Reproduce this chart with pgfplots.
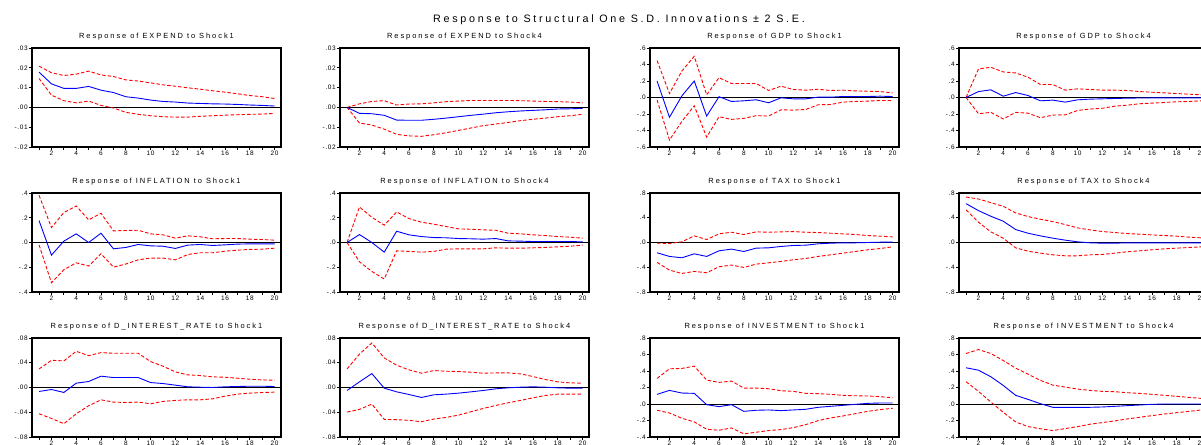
\documentclass[border=0pt]{standalone}
\usepackage{pgfplots}
\pgfplotsset{compat=1.18}
\usepackage{pgfplotstable}
\usepackage{fontspec}
\setmainfont{Liberation Sans}
\newfontfamily\titlefont[LetterSpace=25]{Liberation Sans}
\newfontfamily\ptitlefont[LetterSpace=26]{Liberation Sans}
\newfontfamily\tickfont[LetterSpace=10]{Liberation Sans}

\pgfplotstableread{
x m u l
1 0.0178 0.0208 0.0146
2 0.0119 0.0175 0.0062
3 0.0096 0.0161 0.0034
4 0.0096 0.0168 0.0023
5 0.0106 0.0183 0.0032
6 0.0087 0.0164 0.0010
7 0.0075 0.0156 -0.0003
8 0.0054 0.0139 -0.0025
9 0.0047 0.0133 -0.0035
10 0.0037 0.0124 -0.0042
11 0.0030 0.0114 -0.0047
12 0.0027 0.0107 -0.0049
13 0.0022 0.0099 -0.0049
14 0.0020 0.0092 -0.0045
15 0.0018 0.0084 -0.0042
16 0.0017 0.0077 -0.0039
17 0.0015 0.0069 -0.0037
18 0.0012 0.0060 -0.0035
19 0.0010 0.0054 -0.0034
20 0.0007 0.0045 -0.0030
}\tabA
\pgfplotstableread{
x m u l
1 0 0 0
2 -0.0030 0.0018 -0.0079
3 -0.0032 0.0030 -0.0089
4 -0.0040 0.0034 -0.0110
5 -0.0064 0.0012 -0.0136
6 -0.0065 0.0017 -0.0144
7 -0.0065 0.0018 -0.0146
8 -0.0060 0.0023 -0.0138
9 -0.0054 0.0029 -0.0128
10 -0.0047 0.0032 -0.0116
11 -0.0040 0.0035 -0.0104
12 -0.0034 0.0035 -0.0092
13 -0.0027 0.0035 -0.0084
14 -0.0022 0.0035 -0.0076
15 -0.0018 0.0034 -0.0067
16 -0.0015 0.0032 -0.0060
17 -0.0012 0.0030 -0.0054
18 -0.0008 0.0029 -0.0047
19 -0.0007 0.0027 -0.0042
20 -0.0005 0.0023 -0.0035
}\tabB
\pgfplotstableread{
x m u l
1 0.20 0.447 -0.03
2 -0.24 0.048 -0.515
3 0.02 0.32 -0.29
4 0.20 0.50 -0.10
5 -0.225 0.032 -0.48
6 0.01 0.24 -0.233
7 -0.048 0.17 -0.265
8 -0.04 0.17 -0.253
9 -0.028 0.17 -0.22
10 -0.064 0.085 -0.225
11 -0.004 0.137 -0.149
12 -0.016 0.097 -0.153
13 -0.016 0.089 -0.145
14 0.004 0.10 -0.088
15 0.004 0.085 -0.085
16 0.012 0.089 -0.056
17 0.012 0.08 -0.048
18 0.012 0.076 -0.044
19 0.016 0.072 -0.036
20 0.012 0.056 -0.036
}\tabC
\pgfplotstableread{
x m u l
1 0 0 0
2 0.072 0.346 -0.197
3 0.093 0.366 -0.18
4 0.016 0.31 -0.26
5 0.06 0.298 -0.18
6 0.024 0.246 -0.19
7 -0.04 0.157 -0.245
8 -0.032 0.157 -0.213
9 -0.056 0.089 -0.21
10 -0.028 0.105 -0.157
11 -0.02 0.097 -0.14
12 -0.016 0.089 -0.13
13 -0.012 0.089 -0.105
14 -0.008 0.085 -0.093
15 -0.006 0.072 -0.076
16 -0.005 0.064 -0.068
17 -0.005 0.056 -0.06
18 -0.005 0.048 -0.052
19 -0.005 0.04 -0.048
20 -0.005 0.032 -0.04
}\tabD
\pgfplotstableread{
x m u l
1 0.177 0.381 -0.02
2 -0.102 0.121 -0.325
3 0.011 0.242 -0.22
4 0.07 0.295 -0.164
5 0.0 0.183 -0.19
6 0.075 0.236 -0.091
7 -0.051 0.094 -0.199
8 -0.04 0.097 -0.174
9 -0.016 0.099 -0.14
10 -0.027 0.07 -0.126
11 -0.03 0.062 -0.126
12 -0.048 0.035 -0.14
13 -0.021 0.054 -0.097
14 -0.016 0.046 -0.083
15 -0.024 0.03 -0.083
16 -0.019 0.032 -0.07
17 -0.013 0.032 -0.062
18 -0.011 0.027 -0.056
19 -0.011 0.024 -0.054
20 -0.011 0.019 -0.046
}\tabE
\pgfplotstableread{
x m u l
1 0 0 0
2 0.064 0.287 -0.156
3 0.0 0.204 -0.234
4 -0.078 0.14 -0.295
5 0.091 0.247 -0.067
6 0.062 0.193 -0.072
7 0.048 0.164 -0.078
8 0.04 0.148 -0.072
9 0.038 0.129 -0.054
10 0.032 0.11 -0.051
11 0.03 0.107 -0.051
12 0.027 0.102 -0.051
13 0.032 0.099 -0.043
14 0.013 0.075 -0.046
15 0.011 0.07 -0.046
16 0.008 0.062 -0.043
17 0.008 0.056 -0.04
18 0.008 0.048 -0.035
19 0.008 0.043 -0.03
20 0.005 0.035 -0.021
}\tabF
\pgfplotstableread{
x m u l
1 -0.166 -0.011 -0.322
2 -0.225 -0.016 -0.446
3 -0.247 0.011 -0.5
4 -0.183 0.107 -0.467
5 -0.225 0.048 -0.489
6 -0.134 0.14 -0.392
7 -0.107 0.166 -0.365
8 -0.145 0.129 -0.403
9 -0.091 0.172 -0.349
10 -0.086 0.166 -0.328
11 -0.064 0.172 -0.306
12 -0.048 0.177 -0.279
13 -0.043 0.166 -0.258
14 -0.021 0.161 -0.225
15 -0.011 0.15 -0.199
16 -0.005 0.14 -0.172
17 -0.005 0.129 -0.145
18 0.0 0.113 -0.118
19 0.005 0.102 -0.097
20 0.005 0.091 -0.07
}\tabG
\pgfplotstableread{
x m u l
1 0.628 0.735 0.526
2 0.515 0.703 0.328
3 0.424 0.644 0.172
4 0.344 0.585 0.07
5 0.209 0.478 -0.086
6 0.15 0.419 -0.14
7 0.107 0.376 -0.172
8 0.07 0.338 -0.199
9 0.038 0.29 -0.215
10 0.011 0.236 -0.215
11 -0.005 0.204 -0.199
12 -0.011 0.177 -0.193
13 -0.011 0.161 -0.172
14 -0.005 0.145 -0.15
15 -0.005 0.134 -0.134
16 -0.005 0.123 -0.118
17 -0.005 0.113 -0.102
18 -0.005 0.102 -0.091
19 -0.005 0.086 -0.081
20 -0.005 0.075 -0.07
}\tabH
\pgfplotstableread{
x m u l
1 -0.0064 0.030 -0.0424
2 -0.0032 0.044 -0.050
3 -0.008 0.043 -0.0585
4 0.007 0.0585 -0.0424
5 0.0097 0.0515 -0.0295
6 0.0183 0.0564 -0.0199
7 0.0161 0.0553 -0.0236
8 0.0161 0.0553 -0.0242
9 0.0161 0.0553 -0.0236
10 0.008 0.0419 -0.0263
11 0.0064 0.0344 -0.0225
12 0.0038 0.0252 -0.0209
13 0.0011 0.0204 -0.0199
14 0.0005 0.0193 -0.0199
15 0.0 0.0172 -0.0183
16 0.0011 0.0166 -0.014
17 0.0016 0.015 -0.0107
18 0.0021 0.0134 -0.0091
19 0.0021 0.0123 -0.0081
20 0.0016 0.0118 -0.0075
}\tabI
\pgfplotstableread{
x m u l
1 -0.0048 0.030 -0.0397
2 0.0091 0.054 -0.0354
3 0.0225 0.072 -0.0268
4 -0.0011 0.0478 -0.0515
5 -0.007 0.036 -0.052
6 -0.0113 0.0285 -0.0531
7 -0.0161 0.0231 -0.0553
8 -0.0118 0.0274 -0.051
9 -0.0107 0.0263 -0.0483
10 -0.0091 0.0258 -0.0446
11 -0.007 0.0247 -0.0392
12 -0.0048 0.0231 -0.0338
13 -0.0021 0.0236 -0.029
14 -0.0005 0.0236 -0.0247
15 0.0005 0.022 -0.0209
16 0.0011 0.0177 -0.0166
17 0.0005 0.0129 -0.0129
18 -0.0005 0.0091 -0.0107
19 -0.0011 0.0075 -0.0107
20 -0.0011 0.007 -0.0107
}\tabJ
\pgfplotstableread{
x m u l
1 0.117 0.31 -0.076
2 0.165 0.427 -0.109
3 0.133 0.431 -0.173
4 0.129 0.459 -0.217
5 -0.008 0.29 -0.306
6 -0.032 0.262 -0.318
7 -0.008 0.278 -0.29
8 -0.089 0.193 -0.362
9 -0.076 0.193 -0.342
10 -0.072 0.185 -0.322
11 -0.08 0.161 -0.31
12 -0.072 0.153 -0.286
13 -0.064 0.129 -0.25
14 -0.04 0.125 -0.201
15 -0.028 0.117 -0.169
16 -0.016 0.105 -0.145
17 -0.004 0.10 -0.117
18 0.008 0.097 -0.089
19 0.012 0.089 -0.068
20 0.012 0.076 -0.052
}\tabK
\pgfplotstableread{
x m u l
1 0.439 0.612 0.27
2 0.41 0.66 0.153
3 0.33 0.612 0.024
4 0.225 0.527 -0.101
5 0.105 0.435 -0.217
6 0.056 0.362 -0.274
7 0.004 0.286 -0.30
8 -0.04 0.229 -0.322
9 -0.04 0.205 -0.298
10 -0.04 0.181 -0.274
11 -0.04 0.165 -0.245
12 -0.036 0.153 -0.225
13 -0.028 0.149 -0.205
14 -0.02 0.137 -0.181
15 -0.012 0.129 -0.161
16 -0.004 0.117 -0.141
17 0 0.105 -0.121
18 0 0.093 -0.105
19 0 0.08 -0.089
20 0 0.068 -0.072
}\tabL

\pgfplotsset{
  irf/.style={scale only axis, width=249bp, height=99bp,
    xmin=0.43, xmax=20.52, anchor=north west,
    xtick={1,...,20},
    xticklabels={,2,,4,,6,,8,,10,,12,,14,,16,,18,,20},
    tick align=outside, xtick pos=bottom, ytick pos=left,
    major tick length=3bp,
    tick style={black, line width=0.8bp},
    axis background/.style={draw=black, line width=1.6bp},
    axis line style={draw=black, line width=1.6bp},
    tick label style={font=\tickfont\fontsize{6.5}{7}\selectfont, inner sep=1bp},
    every axis title/.style={at={(0.5,1)}, anchor=base, inner sep=0pt, yshift=10bp, font=\ptitlefont\fontsize{7.5}{9}\selectfont},
    scaled y ticks=false, clip=true},
  yA/.style={ymin=-0.02, ymax=0.03, ytick={-0.02,-0.01,0,0.01,0.02,0.03}, yticklabels={-.02,-.01,.00,.01,.02,.03}},
  yC/.style={ymin=-0.6, ymax=0.6, ytick={-0.6,-0.4,-0.2,0,0.2,0.4,0.6}, yticklabels={-.6,-.4,-.2,.0,.2,.4,.6}},
  yE/.style={ymin=-0.4, ymax=0.4, ytick={-0.4,-0.2,0,0.2,0.4}, yticklabels={-.4,-.2,.0,.2,.4}},
  yG/.style={ymin=-0.8, ymax=0.8, ytick={-0.8,-0.4,0,0.4,0.8}, yticklabels={-.8,-.4,.0,.4,.8}},
  yI/.style={ymin=-0.08, ymax=0.08, ytick={-0.08,-0.04,0,0.04,0.08}, yticklabels={-.08,-.04,.00,.04,.08}},
  yK/.style={ymin=-0.4, ymax=0.8, ytick={-0.4,-0.2,0,0.2,0.4,0.6,0.8}, yticklabels={-.4,-.2,.0,.2,.4,.6,.8}},
  mid/.style={blue, line width=0.9bp},
  band/.style={red, line width=0.9bp, dash pattern=on 3.5bp off 2bp},
  zero/.style={black, line width=0.7bp}
}
\newcommand{\irfplots}[1]{%
  \addplot[zero] coordinates {(0,0) (21,0)};
  \addplot[band] table[x=x,y=u] {#1};
  \addplot[band] table[x=x,y=l] {#1};
  \addplot[mid] table[x=x,y=m] {#1};
}

\begin{document}
\begin{tikzpicture}
\path[use as bounding box] (0,0) rectangle (1201bp,-445bp);
\node[font=\titlefont\fontsize{10.8}{12}\selectfont, anchor=base, inner sep=0pt] at (619bp,-22.7bp) {Response to Structural One S.D. Innovations ± 2 S.E.};

\begin{axis}[irf, yA, at={(32bp,-48bp)}, title={Response of EXPEND to Shock1}]
\irfplots{\tabA}
\end{axis}
\begin{axis}[irf, yA, at={(340bp,-48bp)}, title={Response of EXPEND to Shock4}]
\irfplots{\tabB}
\end{axis}
\begin{axis}[irf, yC, at={(650bp,-48bp)}, title={Response of GDP to Shock1}]
\irfplots{\tabC}
\end{axis}
\begin{axis}[irf, yC, at={(959bp,-48bp)}, title={Response of GDP to Shock4}]
\irfplots{\tabD}
\end{axis}

\begin{axis}[irf, yE, at={(32bp,-193bp)}, title={Response of INFLATION to Shock1}]
\irfplots{\tabE}
\end{axis}
\begin{axis}[irf, yE, at={(340bp,-193bp)}, title={Response of INFLATION to Shock4}]
\irfplots{\tabF}
\end{axis}
\begin{axis}[irf, yG, at={(650bp,-193bp)}, title={Response of TAX to Shock1}]
\irfplots{\tabG}
\end{axis}
\begin{axis}[irf, yG, at={(959bp,-193bp)}, title={Response of TAX to Shock4}]
\irfplots{\tabH}
\end{axis}

\begin{axis}[irf, yI, at={(32bp,-338bp)}, title={Response of D\_INTEREST\_RATE to Shock1}]
\irfplots{\tabI}
\end{axis}
\begin{axis}[irf, yI, at={(340bp,-338bp)}, title={Response of D\_INTEREST\_RATE to Shock4}]
\irfplots{\tabJ}
\end{axis}
\begin{axis}[irf, yK, at={(650bp,-338bp)}, title={Response of INVESTMENT to Shock1}]
\irfplots{\tabK}
\end{axis}
\begin{axis}[irf, yK, at={(959bp,-338bp)}, title={Response of INVESTMENT to Shock4}]
\irfplots{\tabL}
\end{axis}
\end{tikzpicture}
\end{document}
